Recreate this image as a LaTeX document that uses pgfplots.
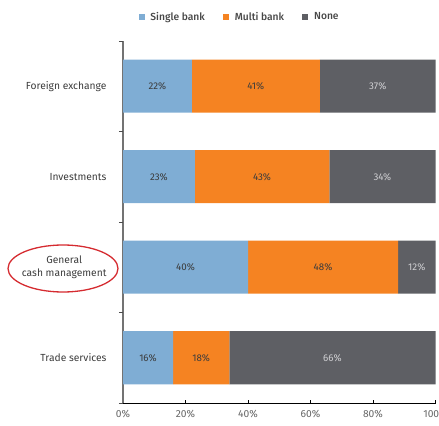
\documentclass[border=0pt]{standalone}
\usepackage{fontspec}
\setmainfont{Fira Sans}
\newfontfamily\medfont{Fira Sans Medium}
\usepackage{pgfplots}
\pgfplotsset{compat=1.18}
\definecolor{sbank}{HTML}{7FADD4}
\definecolor{mbank}{HTML}{F58322}
\definecolor{nonec}{HTML}{5E5F64}
\definecolor{lbltxt}{HTML}{3C3C3C}
\definecolor{lbllight}{HTML}{CFCFD2}
\definecolor{ellred}{HTML}{D52B30}
\begin{document}
\begin{tikzpicture}
\pgfplotsset{
  common/.style={
    scale only axis,
    width=312.5bp, height=362bp,
    at={(123bp,23bp)}, anchor=south west,
    xmin=0, xmax=100, ymin=0.5, ymax=4.5,
  }
}
\begin{axis}[
  common,
  xbar stacked,
  bar width=53bp,
  axis x line*=bottom,
  axis y line*=left,
  x axis line style={black, line width=0.7pt},
  y axis line style={black!55, line width=1.6pt},
  xtick={0,20,40,60,80,100},
  xticklabel={\pgfmathprintnumber{\tick}\%},
  xtick align=inside,
  x tick style={black, line width=0.6pt},
  major tick length=3bp,
  ytick={1,2,3,4},
  yticklabels={Trade services, {General\\cash management}, Investments, Foreign exchange},
  y tick style={draw=none},
  yticklabel style={align=center, text=lbltxt, xshift=-13bp, font=\fontsize{10.3}{12.8}\selectfont},
  xticklabel style={text=black!60, yshift=-4bp, font=\fontsize{10.3}{12}\selectfont},
  /pgf/number format/assume math mode=true,
  extra y ticks={0.5,1.5,2.5,3.5,4.5},
  extra y tick labels={},
  extra y tick style={ytick align=outside, major tick length=4bp, y tick style={draw=black!70, line width=0.9pt}},
  legend style={at={(0.373,1.066)}, anchor=center, draw=none, fill=none,
    legend columns=-1, font=\medfont\fontsize{10.3}{12}\selectfont, text=black!72,
    /tikz/every odd column/.append style={column sep=4bp},
    /tikz/every even column/.append style={column sep=16bp}},
  legend image code/.code={\fill[#1] (0bp,-3bp) rectangle (6bp,3bp);},
]
\addplot[fill=sbank, draw=none] coordinates {(16,1) (40,2) (23,3) (22,4)};
\addplot[fill=mbank, draw=none] coordinates {(18,1) (48,2) (43,3) (41,4)};
\addplot[fill=nonec, draw=none] coordinates {(66,1) (12,2) (34,3) (37,4)};
\legend{Single bank, Multi bank, None}
\end{axis}
\begin{axis}[common, hide axis]
\addplot[only marks, mark=none, nodes near coords, point meta=explicit symbolic,
  nodes near coords style={anchor=center, text=lbltxt, font=\fontsize{9.8}{11}\selectfont}]
  table[meta=label] {
x y label
8 1 16\%
20 2 40\%
11.5 3 23\%
11 4 22\%
25 1 18\%
64 2 48\%
44.5 3 43\%
42.5 4 41\%
};
\addplot[only marks, mark=none, nodes near coords, point meta=explicit symbolic,
  nodes near coords style={anchor=center, text=lbllight, font=\fontsize{9.8}{11}\selectfont}]
  table[meta=label] {
x y label
67 1 66\%
94 2 12\%
83 3 34\%
81.5 4 37\%
};
\end{axis}
\draw[ellred, line width=1.3bp] (63bp,157.5bp) ellipse [x radius=55bp, y radius=23.5bp];
\pgfresetboundingbox
\path[use as bounding box] (0,0) rectangle (439bp,426bp);
\end{tikzpicture}
\end{document}
